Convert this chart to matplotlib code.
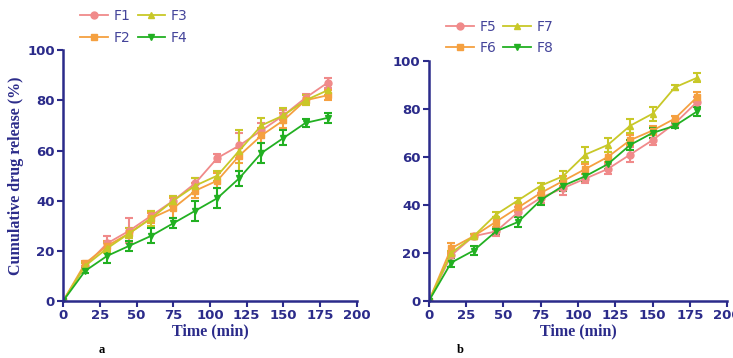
import numpy as np
import matplotlib.pyplot as plt
from matplotlib.lines import Line2D

time_min = [0, 15, 30, 45, 60, 75, 90, 105, 120, 135, 150, 165, 180]

# panel a
f1 = [0, 14, 23, 28, 34, 40, 47, 57, 62, 68, 74, 81, 87]
f1_err = [0, 1, 3, 5, 2, 2, 2, 1.5, 5, 3, 2, 1.5, 2]
f2 = [0, 15, 22, 27, 33, 37, 44, 48, 58, 66, 72, 80, 82]
f2_err = [0, 1, 2, 2, 2, 4, 3, 3, 3, 3, 3, 2, 2]
f3 = [0, 14, 21, 27, 33, 40, 46, 50, 60, 70, 74, 80, 84]
f3_err = [0, 1, 2, 2, 3, 2, 3, 2, 8, 3, 3, 2, 2]
f4 = [0, 12, 18, 22, 26, 31, 36, 41, 49, 59, 65, 71, 73]
f4_err = [0, 1, 3, 2, 3, 2, 4, 4, 3, 4, 3, 1.5, 2]

# panel b
f5 = [0, 19, 27, 29, 37, 43, 47, 51, 55, 61, 67, 74, 83]
f5_err = [0, 1, 1, 2, 2, 2, 3, 2, 2, 3, 2, 1, 2]
f6 = [0, 22, 27, 33, 39, 45, 50, 55, 60, 67, 71, 76, 85]
f6_err = [0, 2, 1, 2, 2, 2, 2, 2, 2, 2, 2, 1, 2]
f7 = [0, 20, 27, 36, 42, 48, 52, 61, 65, 73, 78, 89, 93]
f7_err = [0, 1, 1, 1, 1, 1, 2, 3, 3, 3, 3, 1, 2]
f8 = [0, 16, 21, 29, 33, 42, 48, 52, 57, 65, 70, 73, 79]
f8_err = [0, 2, 2, 1, 2, 2, 2, 2, 2, 2, 2, 1, 2]

COLORS = ["#f08a8a", "#f5a040", "#c8c828", "#22b022"]
MARKERS = ["o", "s", "^", "v"]
NAVY = "#2b2b8a"


def draw_panel(ax, series, errors, names):
    handles = []
    for i, (y, e, n) in enumerate(zip(series, errors, names)):
        ax.errorbar(time_min, y, yerr=e, color=COLORS[i], marker=MARKERS[i],
                    markersize=5, lw=1.3, capsize=3, elinewidth=1.5,
                    capthick=1.5)
        handles.append(Line2D([], [], color=COLORS[i], marker=MARKERS[i],
                              markersize=5, lw=1.3, label=n))
    ax.set_xlim(0, 200)
    ax.set_ylim(0, 100)
    ax.set_xticks(range(0, 201, 25))
    ax.set_yticks(range(0, 101, 20))
    for s in ["top", "right"]:
        ax.spines[s].set_visible(False)
    for s in ["left", "bottom"]:
        ax.spines[s].set_color(NAVY)
        ax.spines[s].set_linewidth(1.8)
    ax.tick_params(colors=NAVY, width=1.5, length=4, labelsize=9.5, pad=2)
    for lbl in ax.get_xticklabels() + ax.get_yticklabels():
        lbl.set_fontweight("bold")
        lbl.set_color(NAVY)
    ax.set_xlabel("Time (min)", fontfamily="Liberation Serif",
                  fontweight="bold", color=NAVY, fontsize=11.5, labelpad=1)
    leg = ax.legend(handles=handles, loc="lower left",
                    bbox_to_anchor=(0.04, 1.0), ncol=2, frameon=False,
                    fontsize=10, handlelength=2.0, columnspacing=0.5,
                    handletextpad=0.4, labelspacing=0.55, borderaxespad=0.0)
    for t in leg.get_texts():
        t.set_color("#44449a")


fig = plt.figure(figsize=(7.33, 3.58), dpi=100)
ax1 = fig.add_axes([0.086, 0.159, 0.401, 0.701])
ax2 = fig.add_axes([0.585, 0.159, 0.407, 0.671])

draw_panel(ax1, [f1, f2, f3, f4], [f1_err, f2_err, f3_err, f4_err],
           ["F1", "F2", "F3", "F4"])
draw_panel(ax2, [f5, f6, f7, f8], [f5_err, f6_err, f7_err, f8_err],
           ["F5", "F6", "F7", "F8"])

ax1.set_ylabel("Cumulative drug release (%)", fontfamily="Liberation Serif",
               fontweight="bold", color=NAVY, fontsize=11.5, labelpad=2)

fig.text(0.135, 0.015, "a", fontfamily="Liberation Serif", fontweight="bold",
         fontsize=9)
fig.text(0.623, 0.015, "b", fontfamily="Liberation Serif", fontweight="bold",
         fontsize=9)

fig.savefig("out.png", dpi=100)
